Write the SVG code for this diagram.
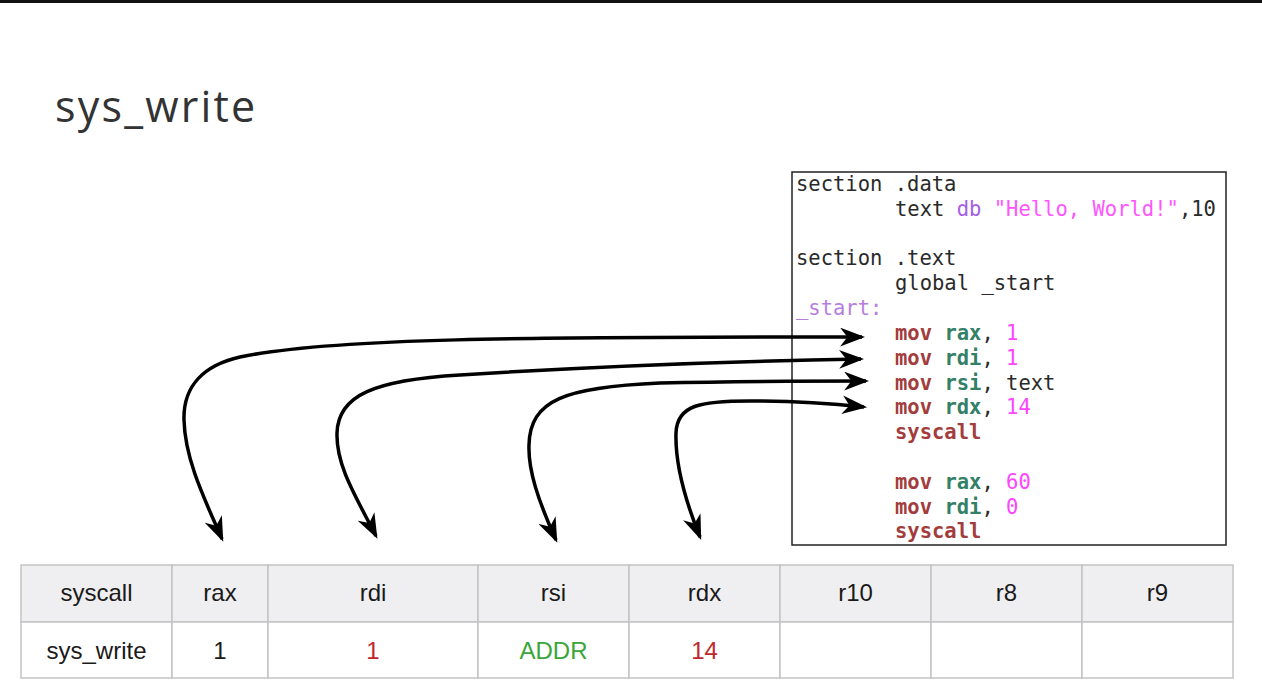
<svg xmlns="http://www.w3.org/2000/svg" width="1262" height="700" viewBox="0 0 1262 700">
<style>
.title{font-family:"Open Sans","Liberation Sans",sans-serif;font-size:43px;letter-spacing:2.2px;fill:#333}
.code{font-family:"DejaVu Sans Mono","Liberation Mono",monospace;font-size:20.5px;fill:#2a2a2a}
.kw{fill:#a33c3c;font-weight:bold}
.reg{fill:#338066;font-weight:bold}
.num{fill:#ff44ff}
.str{fill:#ff55ff}
.db{fill:#a45ee5}
.lbl{fill:#b57edc}
.cell{fill:#fff;stroke:#c4c4c4;stroke-width:1.5}
.hcell{fill:#efeff1;stroke:#c4c4c4;stroke-width:1.5}
.tt{font-family:"Liberation Sans",Arial,sans-serif;font-size:24px;fill:#1a1a1a;text-anchor:middle}
.red{fill:#c0282a}
.green{fill:#3aa63a}
.conn{fill:none;stroke:#000;stroke-width:3.5;marker-start:url(#ah);marker-end:url(#ah)}
</style>
<defs>
<marker id="ah" markerUnits="userSpaceOnUse" markerWidth="25" markerHeight="19" viewBox="0 0 24 18" refX="21" refY="9" orient="auto-start-reverse">
<path d="M0,0 L24,9 L0,18 L7,9 z" fill="#000"/>
</marker>
</defs>
<rect x="0" y="0" width="1262" height="700" fill="#fff"/>
<rect x="0" y="0" width="1262" height="3" fill="#111"/>
<text class="title" x="55" y="122">sys_write</text>

<g id="code">
<rect x="792" y="172" width="434" height="373" fill="#fff" stroke="#222" stroke-width="1.5"/>
<text class="code" x="796" y="191">section .data</text>
<text class="code" x="895" y="216">text <tspan class="db">db</tspan> <tspan class="str">"Hello, World!"</tspan>,10</text>
<text class="code" x="796" y="265">section .text</text>
<text class="code" x="895" y="290">global _start</text>
<text class="code lbl" x="796" y="315">_start:</text>
<text class="code" x="895" y="340"><tspan class="kw">mov</tspan> <tspan class="reg">rax</tspan>, <tspan class="num">1</tspan></text>
<text class="code" x="895" y="365"><tspan class="kw">mov</tspan> <tspan class="reg">rdi</tspan>, <tspan class="num">1</tspan></text>
<text class="code" x="895" y="390"><tspan class="kw">mov</tspan> <tspan class="reg">rsi</tspan>, text</text>
<text class="code" x="895" y="414"><tspan class="kw">mov</tspan> <tspan class="reg">rdx</tspan>, <tspan class="num">14</tspan></text>
<text class="code kw" x="895" y="439">syscall</text>
<text class="code" x="895" y="489"><tspan class="kw">mov</tspan> <tspan class="reg">rax</tspan>, <tspan class="num">60</tspan></text>
<text class="code" x="895" y="514"><tspan class="kw">mov</tspan> <tspan class="reg">rdi</tspan>, <tspan class="num">0</tspan></text>
<text class="code kw" x="895" y="538">syscall</text>
</g>

<g id="table">
<rect class="hcell" x="21" y="565" width="151" height="57"/>
<rect class="hcell" x="172" y="565" width="96" height="57"/>
<rect class="hcell" x="268" y="565" width="210" height="57"/>
<rect class="hcell" x="478" y="565" width="151" height="57"/>
<rect class="hcell" x="629" y="565" width="151" height="57"/>
<rect class="hcell" x="780" y="565" width="151" height="57"/>
<rect class="hcell" x="931" y="565" width="151" height="57"/>
<rect class="hcell" x="1082" y="565" width="151" height="57"/>
<rect class="cell" x="21" y="622" width="151" height="56"/>
<rect class="cell" x="172" y="622" width="96" height="56"/>
<rect class="cell" x="268" y="622" width="210" height="56"/>
<rect class="cell" x="478" y="622" width="151" height="56"/>
<rect class="cell" x="629" y="622" width="151" height="56"/>
<rect class="cell" x="780" y="622" width="151" height="56"/>
<rect class="cell" x="931" y="622" width="151" height="56"/>
<rect class="cell" x="1082" y="622" width="151" height="56"/>
<text class="tt" x="96.5" y="601">syscall</text>
<text class="tt" x="220" y="601">rax</text>
<text class="tt" x="373" y="601">rdi</text>
<text class="tt" x="553.5" y="601">rsi</text>
<text class="tt" x="704.5" y="601">rdx</text>
<text class="tt" x="855.5" y="601">r10</text>
<text class="tt" x="1006.5" y="601">r8</text>
<text class="tt" x="1157.5" y="601">r9</text>
<text class="tt" x="96.5" y="659">sys_write</text>
<text class="tt" x="220" y="659">1</text>
<text class="tt red" x="373" y="659">1</text>
<text class="tt green" x="553.5" y="659">ADDR</text>
<text class="tt red" x="704.5" y="659">14</text>
</g>

<g id="connectors">
<path class="conn" d="M222,539 C205,500 185,460 184,420 C183,385 205,365 240,357 C330,338 520,337 862,337"/>
<path class="conn" d="M376,536 C355,495 336,465 337,433 C338,395 375,380 460,375 C600,366 740,361 861,359"/>
<path class="conn" d="M556,540 C538,500 528,470 529,445 C530,400 565,387 660,383 C740,381 800,381 866,381"/>
<path class="conn" d="M700,537 C685,500 675,465 676,433 C677,405 700,401 750,401 C800,401 835,404 864,407"/>
</g>
</svg>
